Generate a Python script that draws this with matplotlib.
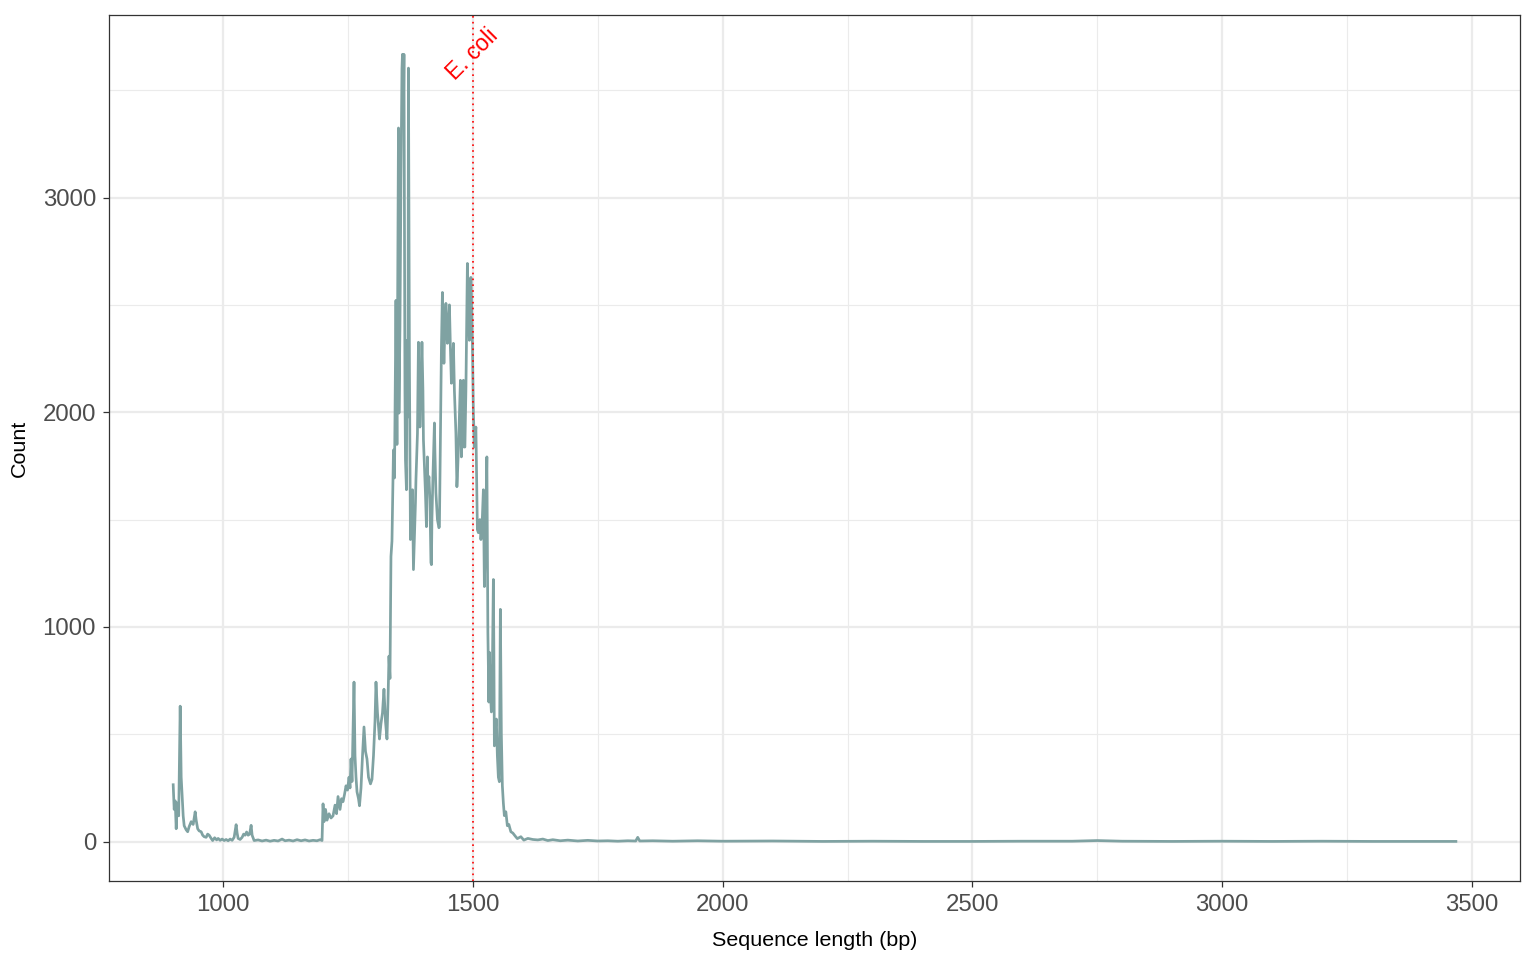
import numpy as np
import matplotlib
matplotlib.use("Agg")
import matplotlib.pyplot as plt
from matplotlib.ticker import MultipleLocator

# sequence length (bp) -> read count
lengths = [900, 902, 904, 906, 908, 911, 914, 916, 918, 920, 922, 926, 929, 932, 936, 940,
           944, 946, 949, 952, 956, 959, 962, 966, 969, 972, 976, 979, 983, 987, 990, 994,
           998, 1002, 1006, 1010, 1014, 1018, 1022, 1026, 1028, 1030, 1034, 1038, 1041, 1044,
           1047, 1050, 1053, 1056, 1058, 1062, 1070, 1078, 1086, 1094, 1102, 1110, 1118, 1124,
           1132, 1140, 1148, 1156, 1164, 1172, 1180, 1188, 1194, 1198,
           1200, 1202, 1205, 1208, 1212, 1216, 1220, 1224, 1227, 1230, 1234, 1237, 1240, 1243,
           1246, 1249, 1252, 1254, 1256, 1258, 1260, 1262, 1264, 1266, 1268, 1271, 1273, 1276,
           1279, 1282, 1285, 1288, 1291, 1295, 1298, 1301, 1304, 1306, 1309, 1313, 1316, 1319,
           1322, 1325, 1328, 1330, 1332, 1334, 1336, 1338, 1341, 1343, 1346, 1348, 1351, 1352,
           1354, 1356, 1358, 1359, 1361, 1362, 1364, 1365, 1367, 1368, 1370, 1371, 1373, 1375,
           1377, 1379, 1381, 1383, 1385, 1386, 1389, 1391, 1392, 1394, 1396, 1398, 1400, 1401,
           1403, 1405, 1407, 1409, 1410, 1412, 1414, 1416, 1417, 1418, 1420, 1423, 1424, 1426,
           1429, 1432, 1433, 1435, 1437, 1439, 1442, 1444, 1446, 1449, 1451, 1453, 1455, 1457,
           1459, 1461, 1463, 1466, 1468, 1469, 1472, 1475, 1477, 1479, 1481, 1482, 1484, 1486,
           1488, 1489, 1491, 1493, 1496, 1497, 1499, 1501, 1503, 1506, 1509, 1511, 1514, 1516,
           1518, 1521, 1523, 1525, 1528, 1530, 1532, 1533, 1535, 1537, 1539, 1541, 1542, 1543,
           1545, 1547, 1549, 1551, 1553, 1555, 1557, 1559, 1561, 1563, 1566, 1569, 1572, 1576,
           1580, 1585, 1589, 1596, 1602, 1610, 1620, 1630, 1640, 1650, 1660, 1675, 1690, 1710,
           1730, 1750, 1770, 1790, 1810, 1826, 1830, 1834, 1860, 1900, 1950, 2000, 2100, 2200,
           2300, 2400, 2500, 2600, 2700, 2750, 2800, 2900, 3000, 3100, 3200, 3300, 3400, 3468]

counts = [265, 150, 190, 60, 180, 120, 631, 300, 214, 120, 74, 55, 46, 70, 93, 80,
          139, 100, 60, 50, 46, 30, 23, 20, 35, 30, 15, 5, 18, 8, 15, 6,
          12, 5, 10, 4, 12, 6, 20, 79, 40, 15, 10, 20, 35, 30,
          45, 30, 35, 76, 30, 5, 8, 3, 7, 2, 6, 3, 12, 4,
          7, 3, 9, 4, 8, 3, 6, 4, 9, 5,
          176, 93, 150, 100, 130, 110, 120, 170, 130, 210, 150, 200, 186, 220,
          260, 240, 300, 250, 385, 280, 500, 743, 400, 300, 232, 200, 167, 250,
          400, 534, 420, 385, 300, 269, 290, 400, 560, 743, 600, 478, 550, 600,
          710, 560, 478, 650, 864, 760, 1328, 1400, 1824, 1694, 2521, 1850, 3324, 1996,
          2400, 3078, 3600, 3667, 3400, 3667, 2100, 1778, 1639, 2335, 1978, 3603, 2200, 1407,
          1550, 1639, 1267, 1421, 1578, 1685, 1900, 2326, 2200, 1931, 2100, 2326, 2100, 1871,
          1750, 1625, 1467, 1792, 1647, 1700, 1592, 1300, 1290, 1500, 1700, 1950, 1815, 1625,
          1500, 1462, 1467, 1900, 2300, 2558, 2228, 2400, 2507, 2321, 2400, 2500, 2300, 2135,
          2200, 2321, 2100, 1903, 1653, 1699, 1900, 2149, 1792, 2000, 2149, 1838, 1838, 2100,
          2500, 2693, 2500, 2335, 2628, 2550, 2321, 2000, 1838, 1931, 1453, 1439, 1500, 1407,
          1450, 1639, 1188, 1400, 1792, 975, 650, 882, 700, 604, 800, 1221, 900, 446,
          520, 571, 400, 300, 279, 1082, 500, 260, 180, 121, 139, 74, 80, 46,
          40, 25, 14, 23, 7, 15, 10, 8, 12, 5, 9, 4, 7, 3,
          6, 3, 4, 2, 4, 3, 20, 3, 4, 2, 4, 2, 3, 1,
          2, 1, 1, 2, 2, 5, 2, 1, 2, 1, 2, 1, 1, 1]

ecoli_length = 1500
ecoli_label = "E. coli"

plt.rcParams['font.family'] = ['Liberation Sans', 'DejaVu Sans']

fig = plt.figure(figsize=(10.24, 6.4), dpi=150)
ax = fig.add_axes([0.071, 0.0823, 0.9186, 0.9021])

x = np.array(lengths)
y = np.array(counts)

ax.plot(x, y, color='#7FA2A2', linewidth=1.3, zorder=3)
ax.axvline(ecoli_length, color='#FF0000', linestyle=(0, (1, 2.5)), linewidth=0.8, zorder=4)
ax.text(ecoli_length, y.max(), ecoli_label, color='#FF0000', rotation=45,
        ha='center', va='center', fontsize=11, zorder=5)

# ggplot-like 5% expansion
xr = x.max() - x.min()
ax.set_xlim(x.min() - 0.05 * xr, x.max() + 0.05 * xr)
yr = y.max()
ax.set_ylim(-0.05 * yr, y.max() + 0.05 * yr)

ax.xaxis.set_major_locator(MultipleLocator(500))
ax.xaxis.set_minor_locator(MultipleLocator(250))
ax.yaxis.set_major_locator(MultipleLocator(1000))
ax.yaxis.set_minor_locator(MultipleLocator(500))

ax.grid(which='major', color='#EBEBEB', linewidth=1.1, zorder=0)
ax.grid(which='minor', color='#EBEBEB', linewidth=0.55, zorder=0)
ax.set_axisbelow(True)

for s in ax.spines.values():
    s.set_color('#333333')
    s.set_linewidth(0.6)

ax.tick_params(which='major', length=2.75, width=0.6, color='#333333',
               labelsize=11.5, labelcolor='#4D4D4D', pad=3.5)
ax.tick_params(which='minor', length=0)

ax.set_xlabel('Sequence length (bp)', fontsize=10.3, color='black', labelpad=7)
ax.set_ylabel('Count', fontsize=10.3, color='black', labelpad=6.5)

fig.savefig('out.png', dpi=150)
